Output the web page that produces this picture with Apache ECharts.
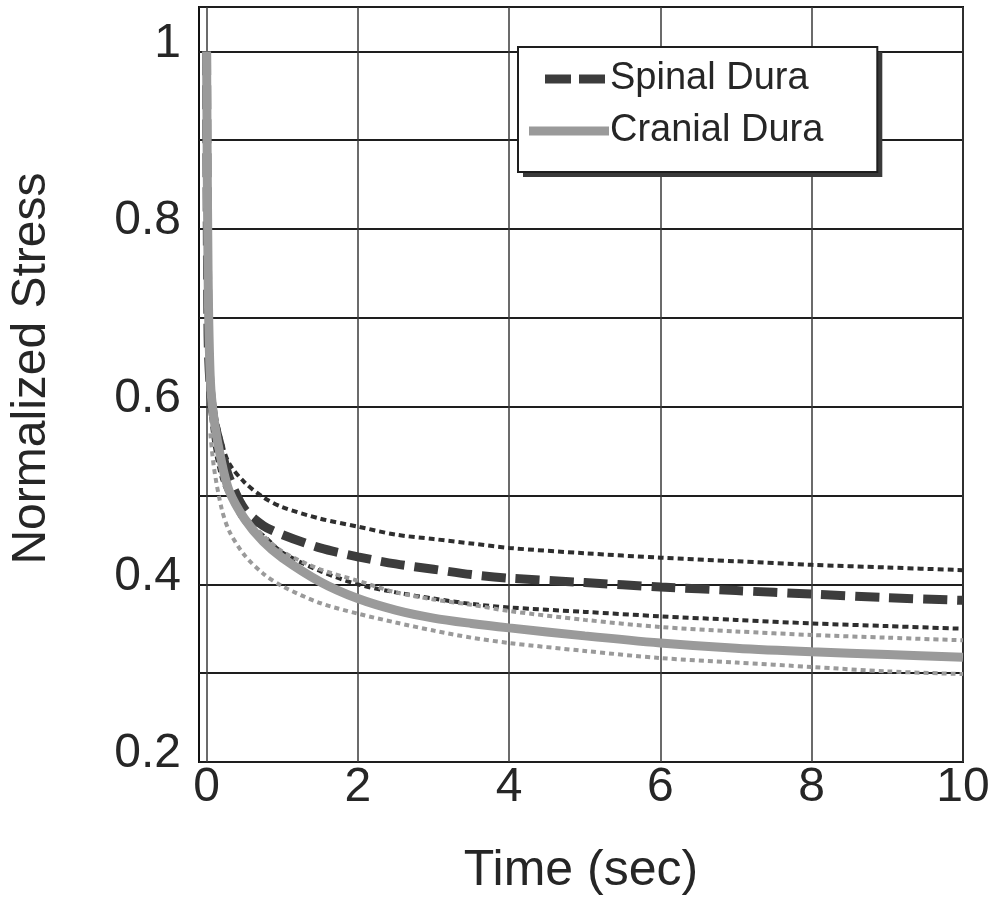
<!DOCTYPE html>
<html>
<head>
<meta charset="utf-8">
<script src="https://cdn.jsdelivr.net/npm/echarts@6/dist/echarts.min.js"></script>
<style>
html,body{margin:0;padding:0;background:#fff;}
#chart{width:997px;height:901px;}
</style>
</head>
<body>
<div id="chart"></div>
<script>
// Time (sec)
var time = [0, 0.02, 0.05, 0.1, 0.2, 0.3, 0.5, 0.75, 1, 1.5, 2, 2.5, 3, 3.5, 4, 5, 6, 7, 8, 9, 10];
// Spinal dura: mean, mean+SD, mean-SD
var spinalMean  = [1.0, 0.68, 0.62, 0.585, 0.55, 0.52, 0.485, 0.466, 0.456, 0.441, 0.431, 0.423, 0.417, 0.411, 0.407, 0.402, 0.397, 0.393, 0.389, 0.385, 0.382];
var spinalUpper = [null, null, 0.635, 0.60, 0.56, 0.536, 0.515, 0.498, 0.487, 0.474, 0.465, 0.456, 0.451, 0.446, 0.441, 0.435, 0.430, 0.426, 0.422, 0.419, 0.416];
var spinalLower = [null, null, 0.60, 0.56, 0.52, 0.50, 0.47, 0.455, 0.436, 0.415, 0.400, 0.391, 0.384, 0.378, 0.374, 0.369, 0.364, 0.360, 0.356, 0.353, 0.350];
// Cranial dura: mean, mean+SD, mean-SD
var cranialMean  = [1.0, 0.75, 0.63, 0.585, 0.537, 0.505, 0.474, 0.448, 0.430, 0.403, 0.384, 0.371, 0.362, 0.356, 0.351, 0.342, 0.334, 0.328, 0.324, 0.321, 0.318];
var cranialUpper = [null, null, 0.62, 0.58, 0.54, 0.51, 0.478, 0.455, 0.437, 0.417, 0.404, 0.391, 0.383, 0.377, 0.370, 0.360, 0.352, 0.347, 0.343, 0.340, 0.337];
var cranialLower = [null, null, 0.57, 0.53, 0.485, 0.46, 0.433, 0.412, 0.398, 0.379, 0.367, 0.357, 0.348, 0.340, 0.334, 0.325, 0.317, 0.312, 0.307, 0.302, 0.299];
// Tick labels
var xTicks = [0, 2, 4, 6, 8, 10];
var yTicks = [0.2, 0.4, 0.6, 0.8, 1];
var legendNames = ['Spinal Dura', 'Cranial Dura'];

function pairs(ys) { return time.map(function (t, i) { return [t, ys[i]]; }); }

var FONT = 'Liberation Sans, Arial, sans-serif';
var TXT = '#262626';
var DASH_ICON = 'path://M0,0M16,0H42V9H16ZM50,0H76V9H50ZM80,9';
var LINE_ICON = 'path://M0,0H80V9H0Z';

var legendBase = {
  orient: 'vertical',
  left: 518, top: 47,
  padding: [12, 54, 21, 11],
  itemWidth: 80, itemHeight: 9, itemGap: 12,
  textStyle: {fontFamily: FONT, fontSize: 38, color: TXT, lineHeight: 40, padding: [0, 0, 0, -4]}
};

var chart = echarts.init(document.getElementById('chart'), null, {renderer: 'canvas'});
chart.setOption({
  animation: false,
  backgroundColor: '#fff',
  grid: {left: 199, right: 34, top: 7, bottom: 138, show: true, borderColor: '#111', borderWidth: 2, backgroundColor: 'transparent'},
  xAxis: {
    type: 'value', min: -0.1, max: 10,
    name: 'Time (sec)', nameLocation: 'middle', nameGap: 84,
    nameTextStyle: {fontFamily: FONT, fontSize: 50, color: TXT},
    axisLine: {show: false},
    axisTick: {show: false, customValues: xTicks},
    axisLabel: {customValues: xTicks, fontFamily: FONT, fontSize: 48, color: TXT, margin: 2},
    splitLine: {show: true, lineStyle: {color: '#3a3a3a', width: 1.5}}
  },
  yAxis: {
    type: 'value', min: 0.2, max: 1.05, interval: 0.1,
    name: 'Normalized Stress', nameLocation: 'middle', nameGap: 143,
    nameTextStyle: {fontFamily: FONT, fontSize: 48, color: TXT, padding: [0, 0, 0, 32]},
    axisLine: {show: false},
    axisTick: {show: false},
    axisLabel: {customValues: yTicks, fontFamily: FONT, fontSize: 48, color: TXT, margin: 18,
      verticalAlign: 'bottom', lineHeight: 16,
      formatter: function (v) { return String(Math.round(v * 10) / 10); }},
    splitLine: {show: true, lineStyle: {color: '#1e1e1e', width: 2}}
  },
  legend: [
    Object.assign({}, legendBase, {
      data: [{name: legendNames[0], icon: DASH_ICON}, {name: legendNames[1], icon: LINE_ICON}],
      backgroundColor: '#fff', borderWidth: 0,
      shadowColor: '#3a3a3a', shadowBlur: 0, shadowOffsetX: 5, shadowOffsetY: 5
    }),
    Object.assign({}, legendBase, {
      data: [{name: legendNames[0], icon: DASH_ICON}, {name: legendNames[1], icon: LINE_ICON}],
      backgroundColor: 'transparent', borderColor: '#1e1e1e', borderWidth: 2,
      itemStyle: {opacity: 0},
      textStyle: Object.assign({}, legendBase.textStyle, {color: 'rgba(0,0,0,0)'})
    })
  ],
  series: [
    {name: 'Spinal +SD', type: 'line', data: pairs(spinalUpper), showSymbol: false, symbol: 'none', smooth: 0.3,
      lineStyle: {color: '#2e2e2e', width: 4, type: [6, 4]}, z: 2},
    {name: 'Spinal -SD', type: 'line', data: pairs(spinalLower), showSymbol: false, symbol: 'none', smooth: 0.3,
      lineStyle: {color: '#2e2e2e', width: 4, type: [6, 4]}, z: 2},
    {name: 'Cranial +SD', type: 'line', data: pairs(cranialUpper), showSymbol: false, symbol: 'none', smooth: 0.3,
      lineStyle: {color: '#9a9a9a', width: 4, type: [5, 4]}, z: 2},
    {name: 'Cranial -SD', type: 'line', data: pairs(cranialLower), showSymbol: false, symbol: 'none', smooth: 0.3,
      lineStyle: {color: '#9a9a9a', width: 4, type: [5, 4]}, z: 2},
    {name: 'Spinal Dura', type: 'line', data: pairs(spinalMean), showSymbol: false, symbol: 'none', smooth: 0.3,
      itemStyle: {color: '#3c3c3c'},
      lineStyle: {color: '#3c3c3c', width: 9, type: [24, 10]}, z: 3},
    {name: 'Cranial Dura', type: 'line', data: pairs(cranialMean), showSymbol: false, symbol: 'none', smooth: 0.3,
      itemStyle: {color: '#9a9a9a'},
      lineStyle: {color: '#9a9a9a', width: 9}, z: 4}
  ]
});
</script>
</body>
</html>
